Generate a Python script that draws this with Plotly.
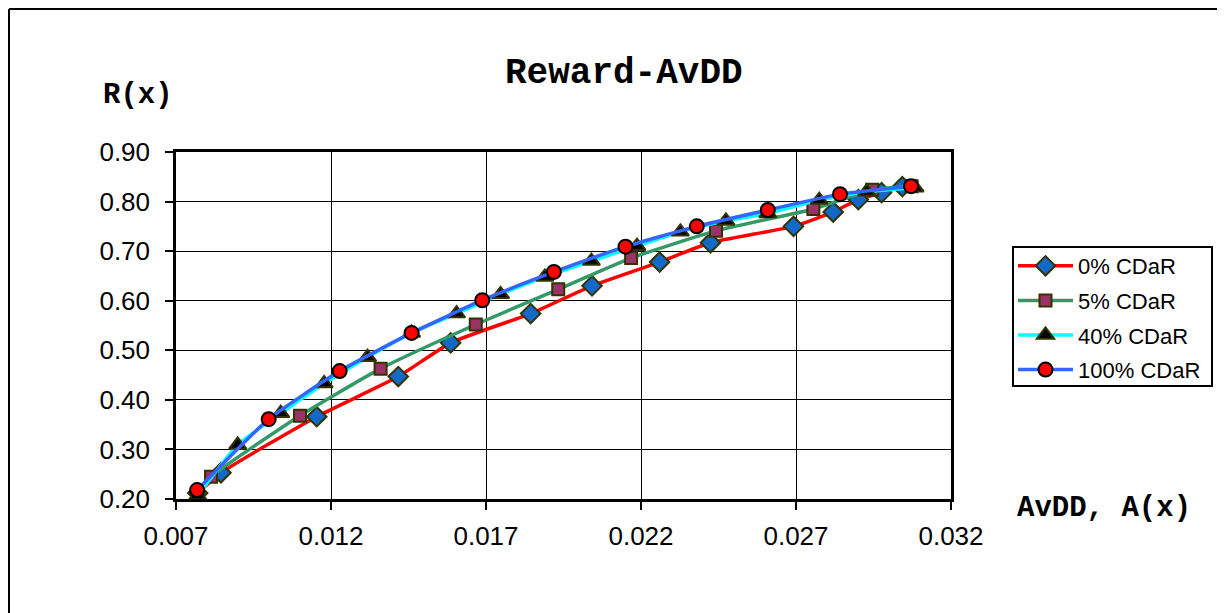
import plotly.graph_objects as go

# ---- data ----
x_0 = [0.00770, 0.00845, 0.01154, 0.01417, 0.01586, 0.01844, 0.02042, 0.02260,
       0.02424, 0.02692, 0.02820, 0.02901, 0.02976, 0.03043]
y_0 = [0.212, 0.253, 0.366, 0.447, 0.515, 0.574, 0.630, 0.678,
       0.717, 0.750, 0.779, 0.804, 0.818, 0.830]

x_5 = [0.00770, 0.00813, 0.01100, 0.01360, 0.01667, 0.01933, 0.02168, 0.02442,
       0.02756, 0.02946, 0.03073]
y_5 = [0.210, 0.245, 0.368, 0.463, 0.552, 0.623, 0.686, 0.741,
       0.785, 0.824, 0.831]

x_40 = [0.00770, 0.00899, 0.01038, 0.01178, 0.01318, 0.01460, 0.01605, 0.01747,
        0.01890, 0.02040, 0.02187, 0.02327, 0.02474, 0.02609, 0.02775, 0.02928, 0.03084]
y_40 = [0.207, 0.309, 0.373, 0.433, 0.486, 0.535, 0.574, 0.613,
        0.648, 0.680, 0.710, 0.739, 0.761, 0.776, 0.803, 0.820, 0.828]

x_100 = [0.00768, 0.00999, 0.01228, 0.01460, 0.01688, 0.01919, 0.02150, 0.02380,
         0.02609, 0.02842, 0.03071]
y_100 = [0.218, 0.361, 0.458, 0.535, 0.601, 0.658, 0.709, 0.750,
         0.783, 0.815, 0.831]

names = ["0% CDaR", "5% CDaR", "40% CDaR", "100% CDaR"]
x_ticks = [0.007, 0.012, 0.017, 0.022, 0.027, 0.032]
x_tick_labels = ["0.007", "0.012", "0.017", "0.022", "0.027", "0.032"]
y_ticks = [0.2, 0.3, 0.4, 0.5, 0.6, 0.7, 0.8, 0.9]
y_tick_labels = ["0.20", "0.30", "0.40", "0.50", "0.60", "0.70", "0.80", "0.90"]

series = [
    (x_0, y_0, names[0], "#FF0000", "diamond", "#1469C8", "#333300", 15),
    (x_5, y_5, names[1], "#339966", "square", "#993366", "#333300", 12),
    (x_40, y_40, names[2], "#00FFFF", "triangle-up", "#000000", "#333300", 15),
    (x_100, y_100, names[3], "#3366FF", "circle", "#FF0000", "#000000", 14),
]

fig = go.Figure()
for i, (xs, ys, nm, lc, sym, fc, oc, sz) in enumerate(series):
    fig.add_trace(go.Scatter(
        x=xs, y=ys, name=nm, mode="lines+markers",
        legendgroup=f"g{i}",
        line=dict(color=lc, width=3.5, shape="spline", smoothing=0.5),
        marker=dict(symbol=sym, color=fc, size=sz,
                    line=dict(color=oc, width=2)),
    ))

OFF = 8  # page body margin
FW, FH = 1225 - OFF, 613 - OFF
# plot area in screen pixels
SL, SR, ST, SB = 176, 951, 152, 499
L, R, T, B = SL - OFF, SR - OFF, ST - OFF, SB - OFF
W, H = R - L, B - T


def px(x):
    return (x - OFF - L) / W


def py(y):
    return (B - (y - OFF)) / H


mono = "Liberation Mono, Courier New, monospace"
sans = "Arial, Liberation Sans, sans-serif"

fig.update_layout(
    width=FW, height=FH,
    margin=dict(l=L, r=FW - R, t=T, b=FH - B, pad=0),
    paper_bgcolor="white", plot_bgcolor="white",
    font=dict(family=sans, color="black"),
    showlegend=True,
    legend=dict(
        x=px(1013), y=py(245), xanchor="left", yanchor="top",
        borderwidth=0, bgcolor="rgba(0,0,0,0)",
        font=dict(family=sans, size=22, color="black"),
        tracegroupgap=3, itemwidth=55,
    ),
    xaxis=dict(
        range=[0.007, 0.032], tickvals=x_ticks, ticktext=x_tick_labels,
        showgrid=True, gridcolor="black", gridwidth=1,
        showline=True, linecolor="black", linewidth=2.5, mirror=True,
        ticks="outside", ticklen=8, tickwidth=2, tickcolor="black",
        tickfont=dict(family=sans, size=26, color="black"),
        ticklabelstandoff=4,
        zeroline=False,
    ),
    yaxis=dict(
        range=[0.2, 0.9], tickvals=y_ticks, ticktext=y_tick_labels,
        showgrid=True, gridcolor="black", gridwidth=1,
        showline=True, linecolor="black", linewidth=2.5, mirror=True,
        ticks="outside", ticklen=8, tickwidth=2, tickcolor="black",
        tickfont=dict(family=sans, size=26, color="black"),
        ticklabelstandoff=10,
        zeroline=False,
    ),
    annotations=[
        dict(text="<b>Reward-AvDD</b>", x=px(624), y=py(73), xref="paper", yref="paper",
             showarrow=False, xanchor="center", yanchor="middle",
             font=dict(family=mono, size=36, color="black")),
        dict(text="<b>R(x)</b>", x=px(138), y=py(95), xref="paper", yref="paper",
             showarrow=False, xanchor="center", yanchor="middle",
             font=dict(family=mono, size=29, color="black")),
        dict(text="<b>AvDD, A(x)</b>", x=px(1104), y=py(508), xref="paper", yref="paper",
             showarrow=False, xanchor="center", yanchor="middle",
             font=dict(family=mono, size=29, color="black")),
    ],
    shapes=[
        dict(type="line", xref="paper", yref="paper",
             x0=px(9), x1=px(9), y0=py(9), y1=py(640),
             line=dict(color="black", width=2)),
        dict(type="line", xref="paper", yref="paper",
             x0=px(9), x1=px(1260), y0=py(9), y1=py(9),
             line=dict(color="black", width=2)),
        dict(type="rect", xref="paper", yref="paper",
             x0=px(1013), x1=px(1212), y0=py(247), y1=py(386),
             line=dict(color="black", width=2)),
    ],
)

fig.write_html("out.html")
